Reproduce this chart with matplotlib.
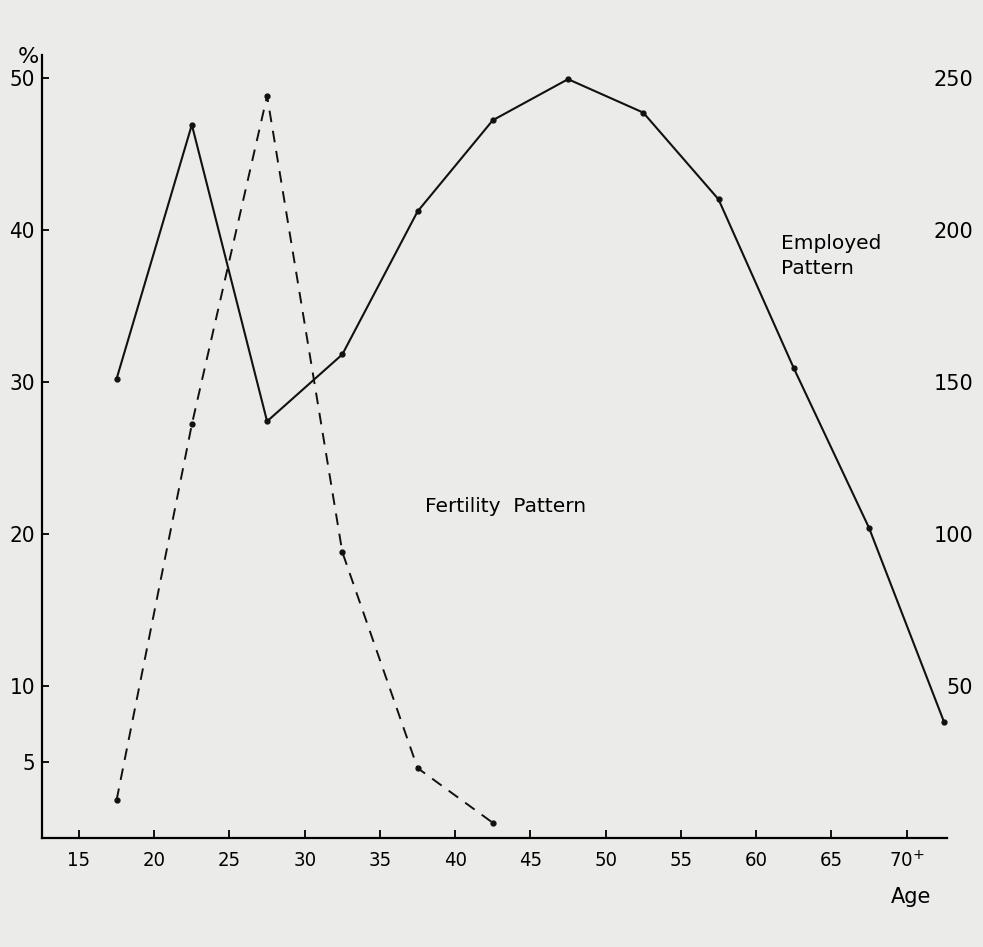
import matplotlib
matplotlib.use('Agg')
import matplotlib.pyplot as plt

# age groups (mid points) and the two patterns
ages = [17.5, 22.5, 27.5, 32.5, 37.5, 42.5, 47.5, 52.5, 57.5, 62.5, 67.5, 72.5]
employed = [30.2, 46.9, 27.4, 31.8, 41.2, 47.2, 49.9, 47.7, 42.0, 30.9, 20.4, 7.6]  # %, left axis
fert_ages = [17.5, 22.5, 27.5, 32.5, 37.5, 42.5]
fertility = [12.5, 136, 244, 94, 23, 5]  # right axis

x_ticks = [15, 20, 25, 30, 35, 40, 45, 50, 55, 60, 65, 70]
x_labels = ['15', '20', '25', '30', '35', '40', '45', '50', '55', '60', '65', '70$^{+}$']
left_ticks = [5, 10, 20, 30, 40, 50]
right_ticks = [50, 100, 150, 200, 250]

bg = '#ebebea'

fig = plt.figure(figsize=(9.83, 9.47), dpi=100, facecolor=bg)
ax = fig.add_axes([0.0427, 0.1151, 0.9203, 0.827])
ax.set_facecolor(bg)

ax.plot(ages, employed, color='#111111', lw=1.5, marker='o', ms=3.5)
ax.set_xlim(12.54, 72.66)
ax.set_ylim(0, 51.5)

for s in ['top', 'right']:
    ax.spines[s].set_visible(False)
ax.spines['left'].set_linewidth(1.6)
ax.spines['bottom'].set_linewidth(1.6)

ax.set_xticks(x_ticks)
ax.set_xticklabels(x_labels, fontsize=14.5, fontstretch='condensed')
ax.set_yticks(left_ticks)
ax.set_yticklabels([str(v) for v in left_ticks], fontsize=16, fontstretch='condensed')
ax.tick_params(axis='x', direction='in', length=6, width=1.3, pad=9)
ax.tick_params(axis='y', direction='in', length=5, width=1.3, pad=5)

# right axis for the fertility pattern
ax2 = ax.twinx()
ax2.plot(fert_ages, fertility, color='#111111', lw=1.4, ls=(0, (6, 4.5)),
         marker='o', ms=3.5)
ax2.set_ylim(0, 51.5 * 5)
for s in ax2.spines.values():
    s.set_visible(False)
ax2.set_yticks(right_ticks)
ax2.set_yticklabels([str(v) for v in right_ticks], fontsize=15, ha='right')
ax2.tick_params(axis='y', length=0, pad=19)

fig.text(28 / 983, 1 - 57 / 947, '%', fontsize=16, ha='center', va='center')
fig.text(911 / 983, 1 - 897 / 947, 'Age', fontsize=15, ha='center', va='center')
fig.text(506 / 983, 1 - 507 / 947, 'Fertility  Pattern', fontsize=14.5,
         ha='center', va='center')
fig.text(781 / 983, 1 - 256 / 947, 'Employed\nPattern', fontsize=14.5,
         ha='left', va='center', linespacing=1.35)

fig.savefig('out.png', dpi=100, facecolor=bg)
